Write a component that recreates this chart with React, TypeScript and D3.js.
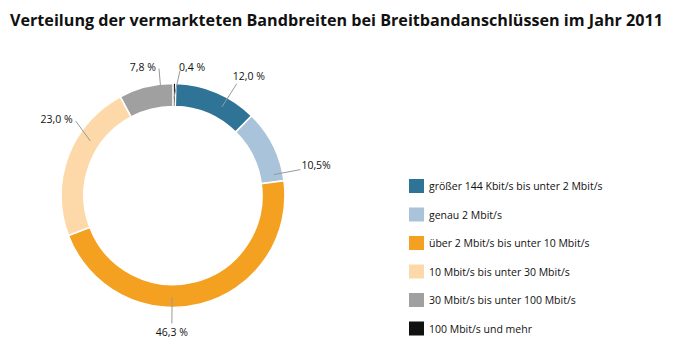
import React from "react";
import * as d3 from "d3";

const categories = [
  "100 Mbit/s und mehr",
  "größer 144 Kbit/s bis unter 2 Mbit/s",
  "genau 2 Mbit/s",
  "über 2 Mbit/s bis unter 10 Mbit/s",
  "10 Mbit/s bis unter 30 Mbit/s",
  "30 Mbit/s bis unter 100 Mbit/s",
];
const values = [0.4, 12.0, 10.5, 46.3, 23.0, 7.8];
const valueLabels = ["0,4 %", "12,0 %", "10,5%", "46,3 %", "23,0 %", "7,8 %"];
const colors = ["#111111", "#2f7397", "#a9c3da", "#f4a122", "#fdd9aa", "#a0a0a1"];
const legendOrder = [1, 2, 3, 4, 5, 0];
const title = "Verteilung der vermarkteten Bandbreiten bei Breitbandanschlüssen im Jahr 2011";

// leader line geometry (degrees clockwise from top, radii)
const leaderAngleIn = [0.6, 28.9, 78.3, 180.5, 303.4, 353.5];
const leaderAngleOut = [3.2, 29.7, 78.5, 180.5, 307.4, 353.7];
const leaderRIn = [98, 101, 103, 102, 99, 111];
const leaderROut = [125, 128.6, 130, 128, 122.4, 127.8];

const W = 680, H = 355;
const cx = 173, cy = 195.5;
const rOuter = 112, rInner = 89;

export default function App() {
  const pie = d3.pie<number>().sort(null).value((d) => d).startAngle(0).endAngle(2 * Math.PI);
  const arcs = pie(values);
  const arc = d3.arc<d3.PieArcDatum<number>>().innerRadius(rInner).outerRadius(rOuter);
  const polar = (deg: number, r: number): [number, number] => {
    const a = (deg * Math.PI) / 180;
    return [cx + r * Math.sin(a), cy - r * Math.cos(a)];
  };
  const legendY = d3.scaleBand<number>().domain(d3.range(legendOrder.length)).range([172, 343]);
  const font = "'Open Sans', sans-serif";
  return (
    <svg width={W} height={H} style={{ position: "absolute", left: 0, top: 0, background: "#fff" }}>
      <text x={10} y={26} fontFamily={font} fontWeight="bold" fontSize={15.5} textLength={653} lengthAdjust="spacingAndGlyphs" fill="#111">
        {title}
      </text>
      <g transform={`translate(${cx},${cy})`}>
        {arcs.map((a, i) => (
          <path key={i} d={arc(a) || ""} fill={colors[i]} stroke="#fff" strokeWidth={i === 0 ? 0.8 : 1.6} />
        ))}
      </g>
      {values.map((_, i) => {
        const [x1, y1] = polar(leaderAngleIn[i], leaderRIn[i]);
        const [x2, y2] = polar(leaderAngleOut[i], leaderROut[i]);
        return <line key={i} x1={x1} y1={y1} x2={x2} y2={y2} stroke="#9a9a9a" strokeWidth={1} />;
      })}
      {values.map((_, i) => {
        const [x2, y2] = polar(leaderAngleOut[i], leaderROut[i]);
        const deg = leaderAngleOut[i];
        let anchor: "start" | "middle" | "end" = "start";
        let tx = x2, ty = y2;
        if (deg > 170 && deg < 190) { anchor = "middle"; ty = y2 + 13; tx = x2; }
        else if (deg > 300 && deg < 340) { anchor = "end"; tx = x2 - 3; ty = y2 + 2; }
        else if (deg >= 340) { anchor = "end"; tx = x2 - 3; ty = y2 + 3; }
        else if (deg < 10) { anchor = "start"; tx = x2 - 1; ty = y2; }
        else if (deg < 50) { anchor = "start"; tx = x2 - 4; ty = y2 - 4; }
        else { anchor = "start"; tx = x2 + 1; ty = y2 - 1; }
        return (
          <text key={i} x={tx} y={ty} textAnchor={anchor} fontFamily={font} fontSize={10.5} fill="#111">
            {valueLabels[i]}
          </text>
        );
      })}
      {legendOrder.map((ci, k) => {
        const y = legendY(k)!;
        return (
          <g key={k}>
            <rect x={409} y={y + 7} width={15} height={14} fill={colors[ci]} />
            <text x={429} y={y + 18} fontFamily={font} fontSize={10.5} fill="#111">
              {categories[ci]}
            </text>
          </g>
        );
      })}
    </svg>
  );
}
